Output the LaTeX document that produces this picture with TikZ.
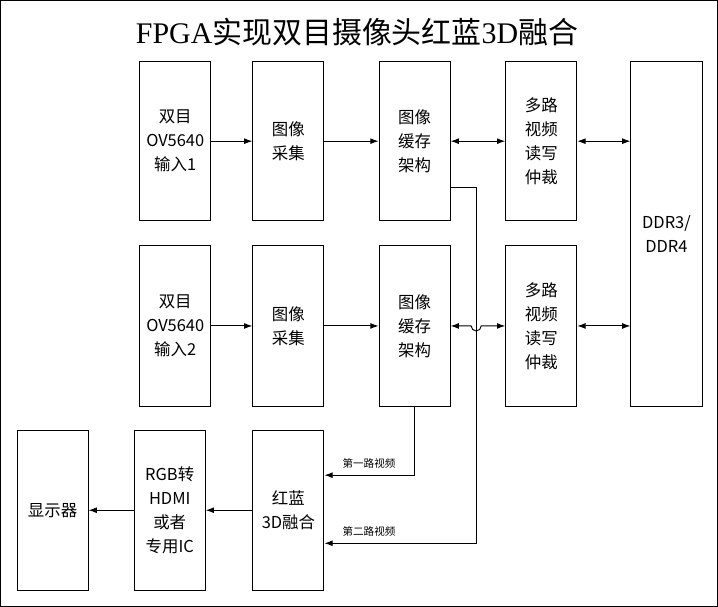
\documentclass[tikz,border=0pt]{standalone}
\usepackage{fontspec}
\setmainfont{Noto Sans CJK SC}
\newfontfamily\titlefont{Liberation Serif}
\newfontfamily\cjk{Noto Sans CJK SC}
\usetikzlibrary{arrows.meta}
\begin{document}
\begin{tikzpicture}[x=0.03cm, y=-0.03cm,
    blk/.style={draw=black, thick, minimum width=71*0.03cm, align=center, font=\fontsize{14}{20.5}\selectfont},
    arr/.style={thick, -{Latex[length=7pt, width=5pt]}},
    darr/.style={thick, {Latex[length=7pt, width=5pt]}-{Latex[length=7pt, width=5pt]}},
    lbl/.style={font=\fontsize{9}{11}\selectfont}]
    \draw[thick] (1, 1) rectangle (717, 606);
    \node (title) at (357, 33) {\fontsize{25.5}{30}\selectfont\cjk{\titlefont FPGA}实现双目摄像头红蓝{\titlefont 3D}融合};

    % first row
    \node (in1) at (175.5, 141.5)[blk, minimum height=159*0.03cm] {双目\\OV5640\\输入1};
    \node (cap1) at (288.5, 141.5)[blk, minimum height=159*0.03cm] {图像\\采集};
    \node (buf1) at (414.5, 141.5)[blk, minimum height=159*0.03cm] {图像\\缓存\\架构};
    \node (arb1) at (541, 141.5)[blk, minimum height=159*0.03cm] {多路\\视频\\读写\\仲裁};

    % second row
    \node (in2) at (175.5, 326)[blk, minimum height=160*0.03cm] {双目\\OV5640\\输入2};
    \node (cap2) at (288.5, 326)[blk, minimum height=160*0.03cm] {图像\\采集};
    \node (buf2) at (414.5, 326)[blk, minimum height=160*0.03cm] {图像\\缓存\\架构};
    \node (arb2) at (541, 326)[blk, minimum height=160*0.03cm] {多路\\视频\\读写\\仲裁};

    \node (ddr) at (666, 234)[blk, minimum height=344*0.03cm] {DDR3/\\DDR4};

    % output row
    \node (disp) at (53, 510)[blk, minimum height=160*0.03cm] {显示器};
    \node (hdmi) at (170, 510)[blk, minimum height=160*0.03cm] {RGB转\\HDMI\\或者\\专用IC};
    \node (fuse) at (288.5, 510)[blk, minimum height=160*0.03cm] {红蓝\\3D融合};

    \draw[arr] (in1) -- (cap1);
    \draw[arr] (cap1) -- (buf1);
    \draw[darr] (buf1) -- (arb1);
    \draw[darr] (arb1) -- (arb1 -| ddr.west);
    \draw[arr] (in2) -- (cap2);
    \draw[arr] (cap2) -- (buf2);
    \coordinate (hop) at (476, 326);
    \draw[darr] (buf2.east) -- ([xshift=-0.15cm]hop) arc[start angle=180, end angle=360, radius=0.15cm] -- (arb2.west);
    \draw[darr] (arb2) -- (arb2 -| ddr.west);

    \coordinate (sec) at (476, 543);
    \draw[arr] (450, 188) -- (476, 188) -- (sec) -- (sec -| fuse.east);
    \node[lbl, anchor=south] at (369, 540) {第二路视频};
    \coordinate (fst) at (414.5, 475);
    \draw[arr] (buf2.south) -- (fst) -- (fst -| fuse.east);
    \node[lbl, anchor=south] at (369, 472) {第一路视频};

    \draw[arr] (fuse) -- (hdmi);
    \draw[arr] (hdmi) -- (disp);
\end{tikzpicture}
\end{document}
